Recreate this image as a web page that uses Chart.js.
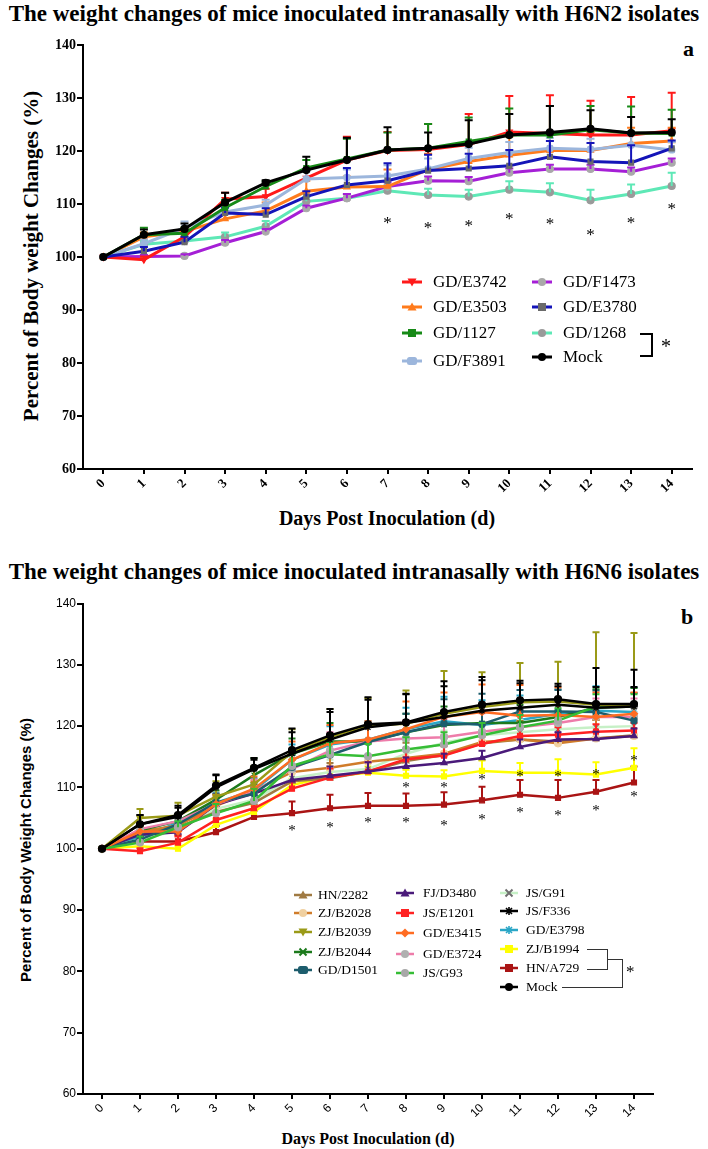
<!DOCTYPE html>
<html><head><meta charset="utf-8">
<script src="https://cdn.jsdelivr.net/npm/chart.js@4.4.0/dist/chart.umd.min.js"></script>
<style>
body{margin:0;background:#fff;width:708px;height:1149px;position:relative;overflow:hidden;font-family:'Liberation Serif','Times New Roman',serif;color:#000;}
.abs{position:absolute;white-space:nowrap;font-family:'Liberation Serif','Times New Roman',serif;}
.title{font-weight:bold;font-size:23px;left:0;width:708px;text-align:center;line-height:28px;}
.ytitle{transform:translate(-50%,-50%) rotate(-90deg);font-weight:bold;}
.xtitle{transform:translate(-50%,-50%);font-weight:bold;}
.leg{display:flex;align-items:center;height:20px;font-family:'Liberation Serif','Times New Roman',serif;}
.leg span{font-family:'Liberation Serif','Times New Roman',serif;}
.leg svg{display:block;}
.ln{position:absolute;background:#000;}
canvas{position:absolute;left:0;}
</style>
</head><body>
<div class="abs title" style="top:0px;">The weight changes of mice inoculated intranasally with H6N2 isolates</div>
<div class="abs" style="left:683px;top:36px;font-weight:bold;font-size:22px;">a</div>
<div class="abs ytitle" style="left:31px;top:256px;font-size:21px;">Percent of Body weight Changes (%)</div>
<div class="abs xtitle" style="left:387px;top:518px;font-size:20px;">Days Post Inoculation (d)</div>

<div class="abs title" style="top:558px;">The weight changes of mice inoculated intranasally with H6N6 isolates</div>
<div class="abs" style="left:681px;top:604px;font-weight:bold;font-size:22px;">b</div>
<div class="abs ytitle" style="left:25px;top:850px;font-size:15px;font-family:'Liberation Sans',Arial,sans-serif;">Percent of Body Weight Changes (%)</div>
<div class="abs xtitle" style="left:368px;top:1139px;font-size:16px;">Days Post Inoculation (d)</div>

<canvas id="cA" width="708" height="540" style="top:0px;"></canvas>
<canvas id="cB" width="708" height="559" style="top:590px;"></canvas>
<div id="legends"></div>

<script>
// ---------- shared ----------
const days = ['0','1','2','3','4','5','6','7','8','9','10','11','12','13','14'];
const yTicksTop = [60,70,80,90,100,110,120,130,140];

// ---------- chart a (H6N2) ----------
const a_labels = ['GD/E3742','GD/E3503','GD/1127','GD/F3891','GD/F1473','GD/E3780','GD/1268','Mock'];
const a_E3742 = [100,99.5,103.8,110.9,111.4,114.9,118.3,120.1,120.3,121.2,123.6,123.3,123.0,123.0,123.8];
const a_E3503 = [100,103.8,104.8,107.2,108.7,112.4,113.2,113.3,116.5,118.0,119.2,120.1,120.1,121.4,121.9];
const a_1127  = [100,104.2,104.5,109.3,113.3,116.8,118.5,120.2,120.5,121.8,123.0,123.0,124.0,123.4,123.3];
const a_F3891 = [100,102.5,105.5,108.5,109.8,114.7,115.0,115.3,116.6,118.6,119.7,120.5,120.3,121.1,120.2];
const a_F1473 = [100,100.1,100.2,102.7,104.8,109.2,111.1,113.3,114.4,114.3,115.9,116.6,116.6,116.1,117.8];
const a_E3780 = [100,101.1,102.8,108.3,108.0,111.4,113.6,114.4,116.3,116.7,117.2,118.9,118.0,117.8,120.5];
const a_1268  = [100,102.4,103.0,103.8,105.8,110.5,111.1,112.5,111.7,111.4,112.7,112.2,110.7,111.9,113.4];
const a_Mock  = [100,104.2,105.3,110.3,114.0,116.4,118.3,120.2,120.5,121.3,123.0,123.5,124.2,123.4,123.5];
// upper error (SD)
const a_E3742_sd = [0,0.6,0.8,1.2,1.5,1.5,4.4,3.5,4.8,5.8,6.8,7.2,6.5,7.2,7.2];
const a_E3503_sd = [0,0.8,0.7,1.5,1.6,2.0,2.0,3.2,3.0,3.5,3.5,3.5,3.5,3.0,2.5];
const a_1127_sd  = [0,1.3,1.0,1.5,1.0,1.5,3.8,3.3,4.6,4.5,5.0,5.5,4.5,5.0,4.5];
const a_F3891_sd = [0,0.8,1.2,1.0,1.0,1.5,1.5,2.0,2.0,2.0,2.0,2.0,2.0,2.0,1.5];
const a_F1473_sd = [0,0.3,0.3,0.5,0.5,0.5,0.8,0.8,0.8,0.8,0.8,0.8,0.8,0.8,0.8];
const a_E3780_sd = [0,0.8,1.0,1.0,1.2,1.0,3.2,3.3,3.0,2.8,3.0,3.0,3.5,3.3,1.5];
const a_1268_sd  = [0,0.6,0.8,0.8,1.0,0.8,0.8,1.0,1.2,1.3,1.6,1.7,2.0,1.8,2.5];
const a_Mock_sd  = [0,1.0,1.0,1.8,0.5,2.5,4.2,4.3,3.0,4.5,4.0,5.0,3.5,3.0,2.5];
const a_starDays = ['7','8','9','10','11','12','13','14'];
const a_starVals = [107.1,106.1,106.5,107.8,106.9,104.8,107.0,109.7];

// ---------- chart b (H6N6) ----------
const b_labels = ['HN/2282','ZJ/B2028','ZJ/B2039','ZJ/B2044','GD/D1501','FJ/D3480','JS/E1201','GD/E3415','GD/E3724','JS/G93','JS/G91','JS/F336','GD/E3798','ZJ/B1994','HN/A729','Mock'];
const b_HN2282  = [100,102.5,103.5,106.0,107.5,111.0,111.5,112.6,114.3,115.3,117.2,117.8,117.5,118.0,118.5];
const b_ZJB2028 = [100,102.8,103.8,107.0,109.5,112.5,113.2,114.2,114.8,115.5,117.4,117.8,117.2,118.0,118.4];
const b_ZJB2039 = [100,105.0,105.4,108.5,110.5,115.8,118.2,120.1,120.4,122.0,123.1,123.9,124.0,123.5,123.4];
const b_ZJB2044 = [100,103.0,104.5,108.0,112.0,115.5,117.5,117.5,119.0,120.2,120.5,120.5,121.5,123.0,123.2];
const b_GDD1501 = [100,101.5,104.0,107.5,109.0,113.3,115.3,117.4,119.0,120.4,120.3,122.4,122.4,122.3,120.9];
const b_FJD3480 = [100,102.3,102.7,107.2,109.0,111.2,111.9,112.6,113.4,114.0,114.8,116.6,117.8,117.9,118.4];
const b_JSE1201 = [100,99.6,101.0,104.7,106.6,109.8,111.6,112.6,114.6,115.2,117.1,118.4,118.6,119.1,119.3];
const b_GDE3415 = [100,102.8,102.8,107.3,109.8,114.5,117.2,117.8,119.5,121.5,122.3,121.7,121.8,121.5,122.0];
const b_GDE3724 = [100,103.2,104.5,107.3,109.3,113.0,116.0,117.5,118.0,118.2,119.1,119.8,120.5,121.5,121.5];
const b_JSG93   = [100,101.0,103.5,105.8,107.8,113.5,115.4,115.1,116.2,117.0,118.5,119.8,120.9,123.2,123.2];
const b_JSG91   = [100,101.5,103.0,106.5,108.0,111.5,112.5,113.0,115.5,117.3,118.5,119.0,119.5,119.8,120.0];
const b_JSF336  = [100,104.0,105.2,110.0,113.0,115.5,117.8,119.8,120.5,121.5,122.5,123.0,123.5,123.0,123.2];
const b_GDE3798 = [100,102.0,104.2,107.5,109.5,114.5,117.0,117.8,119.5,120.8,120.2,121.0,122.0,122.5,122.3];
const b_ZJB1994 = [100,100.4,100.0,103.9,106.0,110.4,111.8,112.4,111.9,111.8,112.7,112.4,112.4,112.1,113.2];
const b_HNA729  = [100,101.2,101.2,102.7,105.2,105.8,106.6,107.0,107.0,107.2,107.9,108.8,108.3,109.3,110.8];
const b_Mock    = [100,104.0,105.5,110.3,113.2,116.1,118.5,120.3,120.6,122.3,123.5,124.2,124.4,123.6,123.6];
const b_HN2282_sd  = [0,1,1,1.5,1.5,2,2.5,2.5,3,3,3,3,3,3,3];
const b_ZJB2028_sd = [0,1,1,1.5,1.5,2,2.5,3,3,3,3,3,3,3,3];
const b_ZJB2039_sd = [0,1.5,2.1,2.5,3,3.7,4.6,4.5,5.4,7,5.7,6.4,6.5,11.8,11.8];
const b_ZJB2044_sd = [0,1,1,1.5,2.8,2.5,3,3,3,3,3,3,3,3,3];
const b_GDD1501_sd = [0,1,1,1.5,1.5,2,2.5,3,3,4,5,3.5,3.5,3.5,4.5];
const b_FJD3480_sd = [0,1,1,1,1,1.5,1.5,1.5,1.5,1.5,1.2,1.2,1.2,1.2,1.2];
const b_JSE1201_sd = [0,0.5,1,1,1,1.2,1.5,1.5,1.5,1.5,1.2,1.2,1.2,1.2,1.2];
const b_GDE3415_sd = [0,1,1,1.5,2,3,3,3,4.5,4,4.5,5,4.5,4,3.5];
const b_GDE3724_sd = [0,1,1,1.5,2,3,3,3,3,3,3,3,3,3,3];
const b_JSG93_sd   = [0,1,1,1.5,2,2,2,2,2,2,2,2,2,2,2];
const b_JSG91_sd   = [0,1,1,1.5,2,2,2,2,2,2,2,2,2,2,2];
const b_JSF336_sd  = [0,1.5,1.5,2,1.5,3.5,4.5,4.5,4.8,5,5,4,3,6.5,6];
const b_GDE3798_sd = [0,1,1,1.5,2,2.5,3,3,3.5,4,4,4,4,4,4];
const b_ZJB1994_sd = [0,0.8,0.5,1,1,1,1,1,1,1,1.7,1.6,2.2,2,3.2];
const b_HNA729_sd  = [0,1,1,1,1,1.9,2.2,2.1,2,2,2.2,2.4,2.9,1.9,2.6];
const b_Mock_sd    = [0,1.5,1.5,1.8,1.6,3.5,4.3,4.4,4.6,5,4.5,3.2,2.5,2.8,2.8];
const b_starDaysA729 = ['5','6','7','8','9','10','11','12','13','14'];
const b_starValsA729 = [103.4,103.9,104.7,104.7,104.2,105.2,106.3,105.8,106.6,108.9];
const b_starDaysB1994 = ['8','9','10','11','12','13','14'];
const b_starValsB1994 = [110.5,110.5,111.7,112.3,112.3,112.6,114.8];

// ---------- styles ----------
const a_style = [
  {line:'#ff1a1a', pt:'triangleDown', fill:'#ff1a1a'},
  {line:'#ff7b1c', pt:'triangle', fill:'#ff7b1c'},
  {line:'#178a17', pt:'rect', fill:'#178a17'},
  {line:'#9cb6dc', pt:'rectRounded', fill:'#9cb6dc'},
  {line:'#a51fd6', pt:'circle', fill:'#a9a9a9'},
  {line:'#1414b8', pt:'rect', fill:'#6a6a6a'},
  {line:'#5ee8b6', pt:'circle', fill:'#9a9a9a'},
  {line:'#000000', pt:'circle', fill:'#000000'}
];
const a_data = [a_E3742,a_E3503,a_1127,a_F3891,a_F1473,a_E3780,a_1268,a_Mock];
const a_err  = [a_E3742_sd,a_E3503_sd,a_1127_sd,a_F3891_sd,a_F1473_sd,a_E3780_sd,a_1268_sd,a_Mock_sd];

const b_style = [
  {line:'#a07a42', pt:'triangle', fill:'#a07a42'},
  {line:'#d07c2a', pt:'circle', fill:'#f0d0a0'},
  {line:'#9a9a18', pt:'triangleDown', fill:'#9a9a18'},
  {line:'#1c7a1c', pt:'crossRot', fill:'#1c7a1c'},
  {line:'#1d5d6d', pt:'rectRounded', fill:'#1d5d6d'},
  {line:'#4a1a7a', pt:'triangle', fill:'#4a1a7a'},
  {line:'#ff2222', pt:'rect', fill:'#ff2222'},
  {line:'#ff6c22', pt:'rectRot', fill:'#ff6c22'},
  {line:'#ee7caa', pt:'circle', fill:'#b0b0b0'},
  {line:'#35bd35', pt:'circle', fill:'#a8a8a8'},
  {line:'#c6f0c6', pt:'crossRot', fill:'#707070'},
  {line:'#000000', pt:'star', fill:'#000000'},
  {line:'#2aa6c6', pt:'star', fill:'#2aa6c6'},
  {line:'#ffff00', pt:'rect', fill:'#ffff00'},
  {line:'#aa1414', pt:'rect', fill:'#aa1414'},
  {line:'#000000', pt:'circle', fill:'#000000'}
];
const b_data = [b_HN2282,b_ZJB2028,b_ZJB2039,b_ZJB2044,b_GDD1501,b_FJD3480,b_JSE1201,b_GDE3415,b_GDE3724,b_JSG93,b_JSG91,b_JSF336,b_GDE3798,b_ZJB1994,b_HNA729,b_Mock];
const b_err  = [b_HN2282_sd,b_ZJB2028_sd,b_ZJB2039_sd,b_ZJB2044_sd,b_GDD1501_sd,b_FJD3480_sd,b_JSE1201_sd,b_GDE3415_sd,b_GDE3724_sd,b_JSG93_sd,b_JSG91_sd,b_JSF336_sd,b_GDE3798_sd,b_ZJB1994_sd,b_HNA729_sd,b_Mock_sd];

// ---------- plugins ----------
const errPlugin = {
  id:'errbars',
  afterDatasetDraw(chart, args){
    const ds = chart.data.datasets[args.index];
    if(!ds.err) return;
    const ys = chart.scales.y, ctx = chart.ctx;
    ctx.save();
    ctx.strokeStyle = ds.borderColor; ctx.lineWidth = ds.errWidth || 2;
    args.meta.data.forEach((pt,i)=>{
      const e = ds.err[i]; if(!e) return;
      const y0 = ys.getPixelForValue(ds.data[i]);
      const y1 = ys.getPixelForValue(ds.data[i]+e);
      const cw = ds.capW || 4;
      ctx.beginPath();
      ctx.moveTo(pt.x,y0); ctx.lineTo(pt.x,y1);
      ctx.moveTo(pt.x-cw,y1); ctx.lineTo(pt.x+cw,y1);
      ctx.stroke();
    });
    ctx.restore();
  }
};
const starPlugin = {
  id:'stars',
  afterDatasetsDraw(chart, args, opts){
    if(!opts || !opts.sets) return;
    const xs = chart.scales.x, ys = chart.scales.y, ctx = chart.ctx;
    ctx.save();
    ctx.fillStyle = '#000';
    ctx.font = opts.size + 'px "Liberation Serif"';
    ctx.textAlign = 'center'; ctx.textBaseline = 'alphabetic';
    opts.sets.forEach(s=>{
      s.days.forEach((d,i)=>{
        const x = xs.getPixelForValue(days.indexOf(d));
        const y = ys.getPixelForValue(s.vals[i]);
        ctx.fillText('*', x, y + opts.size*0.48);
      });
    });
    ctx.restore();
  }
};

function makeDatasets(labels, data, err, style, lw, pr, capW){
  return labels.map((l,i)=>({
    label:l, data:data[i], err:err[i], capW:capW,
    borderColor:style[i].line, backgroundColor:style[i].fill,
    pointBackgroundColor:style[i].fill, pointBorderColor:style[i].fill,
    pointStyle: style[i].pt==='triangleDown' ? 'triangle' : style[i].pt,
    pointRotation: style[i].pt==='triangleDown' ? 180 : 0,
    pointRadius:pr, pointBorderWidth:1.2, borderWidth:lw, tension:0, fill:false,
    errWidth:2
  }));
}

function axisOpts(fontFam, fontW, ySize, xSize, tl, yW, xH){
  return {
    x:{type:'category', labels:days, offset:true,
       grid:{display:true, drawOnChartArea:false, drawTicks:true, tickLength:tl, color:'#000', lineWidth:2},
       border:{display:true, color:'#000', width:2},
       ticks:{color:'#000', font:{family:fontFam, weight:fontW, size:xSize}, minRotation:45, maxRotation:45, autoSkip:false, padding:2},
       afterFit:s=>{s.height = xH;}},
    y:{type:'linear', min:60, max:140,
       afterBuildTicks:s=>{s.ticks = yTicksTop.map(v=>({value:v}));},
       grid:{display:true, drawOnChartArea:false, drawTicks:true, tickLength:tl+1, color:'#000', lineWidth:2},
       border:{display:true, color:'#000', width:2},
       ticks:{color:'#000', font:{family:fontFam, weight:fontW, size:ySize}, padding:1},
       afterFit:s=>{s.width = yW;}}
  };
}

Chart.defaults.animation = false;

const dsA = makeDatasets(a_labels, a_data, a_err, a_style, 3, 3.5, 4);
new Chart(document.getElementById('cA'), {
  type:'line',
  data:{labels:days, datasets:dsA.map((d,i)=>Object.assign(d,{order:[5,6,2,4,7,3,8,1][i]}))},
  options:{
    responsive:false, devicePixelRatio:1, animation:false,
    layout:{padding:{top:45, right:16, left:0, bottom:0}},
    plugins:{legend:{display:false}, tooltip:{enabled:false},
      stars:{size:17, sets:[{days:a_starDays, vals:a_starVals}]}},
    scales:axisOpts('Liberation Serif','bold',14,13,5,83,71)
  },
  plugins:[errPlugin, starPlugin]
});

const dsB = makeDatasets(b_labels, b_data, b_err, b_style, 2.5, 3.5, 3.5);
new Chart(document.getElementById('cB'), {
  type:'line',
  data:{labels:days, datasets:dsB.map((d,i)=>Object.assign(d,{order:[12,11,3,8,6,9,10,5,7,4,13,2,14,15,16,1][i]}))},
  options:{
    responsive:false, devicePixelRatio:1, animation:false,
    layout:{padding:{top:13.5, right:55, left:0, bottom:0}},
    plugins:{legend:{display:false}, tooltip:{enabled:false},
      stars:{size:15, sets:[{days:b_starDaysA729, vals:b_starValsA729},{days:b_starDaysB1994, vals:b_starValsB1994}]}},
    scales:axisOpts('Liberation Sans','normal',12,12,5,83,55)
  },
  plugins:[errPlugin, starPlugin]
});

// ---------- HTML legends ----------
function markerSVG(w, st, lw){
  const cx=w/2, cy=7, f=st.fill;
  let s='';
  switch(st.pt){
    case 'circle': s=`<circle cx="${cx}" cy="${cy}" r="4" fill="${f}"/>`; break;
    case 'rect': s=`<rect x="${cx-4}" y="${cy-4}" width="8" height="8" fill="${f}"/>`; break;
    case 'rectRounded': s=`<rect x="${cx-5}" y="${cy-4}" width="10" height="8" rx="2.5" fill="${f}"/>`; break;
    case 'rectRot': s=`<polygon points="${cx},${cy-4.5} ${cx+4.5},${cy} ${cx},${cy+4.5} ${cx-4.5},${cy}" fill="${f}"/>`; break;
    case 'triangle': s=`<polygon points="${cx-4.5},${cy+3.5} ${cx+4.5},${cy+3.5} ${cx},${cy-4.5}" fill="${f}"/>`; break;
    case 'triangleDown': s=`<polygon points="${cx-4.5},${cy-3.5} ${cx+4.5},${cy-3.5} ${cx},${cy+4.5}" fill="${f}"/>`; break;
    case 'crossRot': s=`<path d="M${cx-3.5} ${cy-3.5}L${cx+3.5} ${cy+3.5}M${cx+3.5} ${cy-3.5}L${cx-3.5} ${cy+3.5}" stroke="${f}" stroke-width="2"/>`; break;
    case 'star': s=`<path d="M${cx-4} ${cy}L${cx+4} ${cy}M${cx} ${cy-4}L${cx} ${cy+4}M${cx-3} ${cy-3}L${cx+3} ${cy+3}M${cx+3} ${cy-3}L${cx-3} ${cy+3}" stroke="${f}" stroke-width="1.6"/>`; break;
  }
  return `<svg width="${w}" height="14"><line x1="0" y1="${cy}" x2="${w}" y2="${cy}" stroke="${st.line}" stroke-width="${lw}"/>${s}</svg>`;
}
const legRoot = document.getElementById('legends');
function addLegend(label, st, x, y, w, gap, size, lw){
  const d = document.createElement('div');
  d.className = 'abs leg';
  d.style.left = x+'px'; d.style.top = (y-10)+'px'; d.style.fontSize = size+'px';
  d.innerHTML = markerSVG(w, st, lw) + `<span style="margin-left:${gap}px">${label}</span>`;
  legRoot.appendChild(d);
}
function addLine(x,y,w,h,c){
  const d=document.createElement('div'); d.className='ln';
  d.style.left=x+'px'; d.style.top=y+'px'; d.style.width=w+'px'; d.style.height=h+'px';
  if(c) d.style.background=c;
  legRoot.appendChild(d);
}
function addText(t,x,y,size){
  const d=document.createElement('div'); d.className='abs';
  d.style.left=x+'px'; d.style.top=y+'px'; d.style.fontSize=size+'px'; d.textContent=t;
  legRoot.appendChild(d);
}
// legend a
const a_legPos = [[402,282],[402,307],[402,333],[402,361],[532,282],[532,307],[532,333],[532,357]];
a_labels.forEach((l,i)=>addLegend(l, a_style[i], a_legPos[i][0], a_legPos[i][1], 20, 11, 17, 3));
addLine(651,333,2,24); addLine(640,333,13,2); addLine(640,355,13,2);
addText('*',661,335,20);
// legend b
const b_legPos = [
  [294,895],[294,913],[294,932],[294,952],[294,970],
  [396,893],[396,913],[396,933],[396,954],[396,973],
  [500,893],[500,911],[500,930],[500,949],[500,968],[500,987]];
b_labels.forEach((l,i)=>addLegend(l, b_style[i], b_legPos[i][0], b_legPos[i][1], 18, i<5?6:(i<10?9:8), 13.5, 2.5));
addLine(587,949,20,1,'#333'); addLine(587,969,20,1,'#333'); addLine(607,949,1,21,'#333');
addLine(607,959,15,1,'#333'); addLine(562,987,60,1,'#333'); addLine(622,959,1,29,'#333');
addText('*',626,962,17);
</script>
</body></html>
